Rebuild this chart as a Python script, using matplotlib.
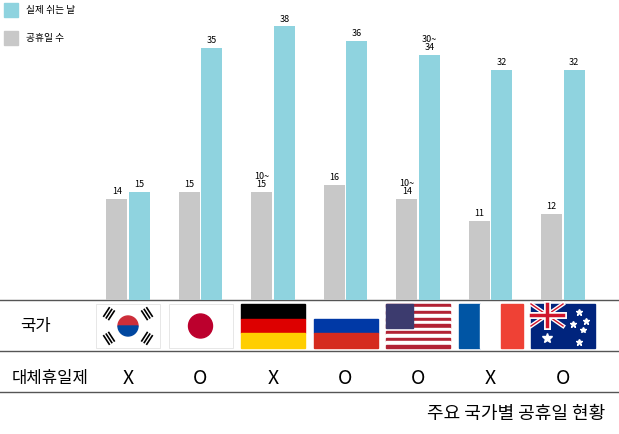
import matplotlib
matplotlib.use("Agg")
import matplotlib.pyplot as plt
from matplotlib.patches import Rectangle, Circle, Wedge
import numpy as np

plt.rcParams['font.family'] = ['Noto Sans CJK KR', 'DejaVu Sans']

countries = ["한국", "일본", "독일", "러시아", "미국", "프랑스", "호주"]
holidays = [14, 15, 15, 16, 14, 11, 12]
holiday_labels = ["14", "15", "10~\n15", "16", "10~\n14", "11", "12"]
rest_days = [15, 35, 38, 36, 34, 32, 32]
rest_labels = ["15", "35", "38", "36", "30~\n34", "32", "32"]
substitute = ["X", "O", "X", "O", "O", "X", "O"]

GRAY = "#c8c8c8"
BLUE = "#8fd3df"
W, H = 619, 434
fig = plt.figure(figsize=(W/100, H/100), dpi=100)

ov = fig.add_axes([0, 0, 1, 1])
ov.set_xlim(0, W); ov.set_ylim(H, 0); ov.axis("off")

base = 300
ax = fig.add_axes([0, (H-base)/H, 1, base/H])
x = np.arange(len(countries))
ax.set_xlim(-128/72.5, (W-128)/72.5)
ax.set_ylim(0, base/7.2)
ax.axis("off")
bw = 0.29
ax.bar(x - bw/2 - 0.01, holidays, bw, color=GRAY)
ax.bar(x + bw/2 + 0.01, rest_days, bw, color=BLUE)
for i in x:
    ax.text(i - bw/2 - 0.01, holidays[i] + 0.4, holiday_labels[i], ha="center", va="bottom", fontsize=6.5, linespacing=0.9)
    ax.text(i + bw/2 + 0.01, rest_days[i] + 0.4, rest_labels[i], ha="center", va="bottom", fontsize=6.5, linespacing=0.9)

ov.add_patch(Rectangle((4, 3), 14, 14, color=BLUE))
ov.text(26, 10, "실제 쉬는 날", fontsize=7, va="center")
ov.add_patch(Rectangle((4, 31), 14, 14, color=GRAY))
ov.text(26, 38, "공휴일 수", fontsize=7, va="center")

for yy in (300, 351, 392):
    ov.plot([0, W], [yy, yy], color="#555555", lw=1)
ov.text(20, 326, "국가", fontsize=12, va="center")
ov.text(12, 378, "대체휴일제", fontsize=12, va="center")
centers = [128 + i*72.5 for i in range(7)]
for c, s in zip(centers, substitute):
    ov.text(c, 378, s, fontsize=14, ha="center", va="center")
ov.text(605, 414, "주요 국가별 공휴일 현황", fontsize=13, ha="right", va="center")

fw, fh, fy = 64, 44, 304
def flag(i):
    x0 = centers[i] - fw/2
    cx, cy = centers[i], fy + fh/2
    if i == 0:
        ov.add_patch(Rectangle((x0, fy), fw, fh, fc="white", ec="#dddddd", lw=0.5))
        ov.add_patch(Wedge((cx, cy), 10, 180, 360, color="#cd2e3a"))
        ov.add_patch(Wedge((cx, cy), 10, 0, 180, color="#0047a0"))
        for dx, dy in [(-20, -13), (20, -13), (-20, 13), (20, 13)]:
            ang = np.arctan2(dy, dx)
            for k in (-3, 0, 3):
                px, py = cx + dx*0.95 + k*np.cos(ang), cy + dy*0.95 + k*np.sin(ang)
                ov.plot([px - 5*np.sin(ang), px + 5*np.sin(ang)], [py + 5*np.cos(ang), py - 5*np.cos(ang)], color="black", lw=1.2)
    elif i == 1:
        ov.add_patch(Rectangle((x0, fy), fw, fh, fc="white", ec="#dddddd", lw=0.5))
        ov.add_patch(Circle((cx, cy), 12, color="#bc002d"))
    elif i == 2:
        for k, c in enumerate(["black", "#dd0000", "#ffce00"]):
            ov.add_patch(Rectangle((x0, fy + k*fh/3), fw, fh/3, color=c))
    elif i == 3:
        ov.add_patch(Rectangle((x0, fy), fw, fh, fc="white", ec="#dddddd", lw=0.5))
        for k, c in enumerate(["white", "#0039a6", "#d52b1e"]):
            ov.add_patch(Rectangle((x0, fy + k*fh/3), fw, fh/3, color=c))
    elif i == 4:
        for k in range(13):
            ov.add_patch(Rectangle((x0, fy + k*fh/13), fw, fh/13, color="#b22234" if k % 2 == 0 else "white"))
        ov.add_patch(Rectangle((x0, fy), fw*0.42, fh*7/13, color="#3c3b6e"))
    elif i == 5:
        for k, c in enumerate(["#0055a4", "white", "#ef4135"]):
            ov.add_patch(Rectangle((x0 + k*fw/3, fy), fw/3, fh, color=c))
    elif i == 6:
        ov.add_patch(Rectangle((x0, fy), fw, fh, color="#00247d"))
        ux, uy, uw, uh = x0, fy, fw/2, fh/2
        for lw, col in ((3, "white"), (1, "#cf142b")):
            ov.plot([ux, ux+uw], [uy, uy+uh], color=col, lw=lw)
            ov.plot([ux, ux+uw], [uy+uh, uy], color=col, lw=lw)
        for lw, col in ((5, "white"), (2.5, "#cf142b")):
            ov.plot([ux+uw/2]*2, [uy, uy+uh], color=col, lw=lw)
            ov.plot([ux, ux+uw], [uy+uh/2]*2, color=col, lw=lw)
        for sx, sy, sz in [(x0+16, fy+34, 5), (x0+48, fy+8, 3), (x0+42, fy+20, 3), (x0+55, fy+17, 3), (x0+48, fy+38, 3), (x0+52, fy+26, 2)]:
            ov.plot(sx, sy, marker="*", color="white", ms=sz+2)
for i in range(7):
    flag(i)

fig.savefig("out.png", dpi=100)
